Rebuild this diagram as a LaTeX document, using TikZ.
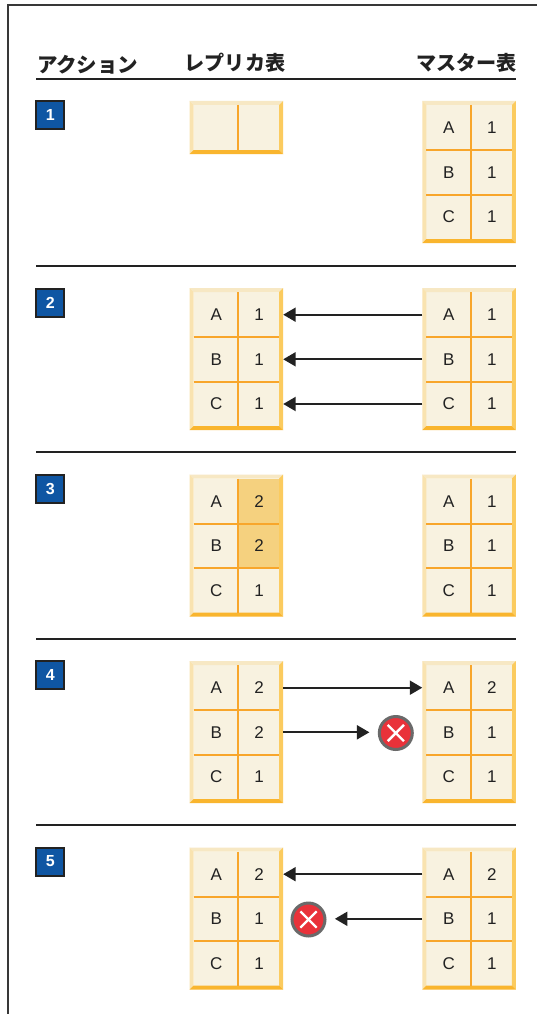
\documentclass[tikz,border=0pt]{standalone}
\usepackage{fontspec}
\setmainfont{Liberation Sans}
\newfontfamily\jpfont{Noto Sans CJK JP}
\usetikzlibrary{arrows.meta}
\definecolor{cellbg}{HTML}{F8F2E0}
\definecolor{cellhi}{HTML}{F5D17F}
\definecolor{divline}{HTML}{F8A62B}
\definecolor{bevtop}{HTML}{F7E8C4}
\definecolor{bevleft}{HTML}{F9E3B0}
\definecolor{bevright}{HTML}{FBCB5F}
\definecolor{bevbot}{HTML}{F9B52E}
\definecolor{inkc}{HTML}{222222}
\definecolor{stepblue}{HTML}{0F56A3}
\definecolor{errred}{HTML}{E9323A}
\definecolor{errring}{HTML}{6A6A6A}
\tikzset{
  cellnode/.style={inner sep=0pt,outer sep=0pt,text=inkc,font=\fontsize{17}{17}\selectfont,anchor=center},
  rownode/.style={inner sep=0pt,outer sep=0pt,minimum width=93.5pt,minimum height=44.5pt,anchor=center},
  divider/.style={draw=divline,line width=2pt},
  rule/.style={draw=inkc,line width=2pt},
  frameline/.style={draw=black!78,line width=2pt},
  headtext/.style={inner sep=0pt,outer sep=0pt,text=inkc,font=\jpfont\bfseries\fontsize{20.1}{20.1}\selectfont},
  stepbox/.style={draw=inkc,fill=stepblue,line width=2pt,minimum size=28pt,inner sep=0pt,text=white,font=\bfseries\fontsize{16}{16}\selectfont},
  flow/.style={draw=inkc,line width=2pt,-{Triangle[length=12.5pt,width=14pt]}},
  errmark/.style={circle,fill=errred,draw=errring,line width=3pt,minimum size=33pt,inner sep=0pt},
  errcross/.style={draw=white,line width=2.4pt,shorten >=6.5pt,shorten <=6.5pt},
}
% frame and bevel of a table: #1 x, #2 y, #3 height
\newcommand\bevelbox[3]{%
  \fill[cellbg] (#1+4,#2+4) rectangle (#1+89.5,#2+#3-4);
  \fill[bevtop] (#1,#2) -- (#1+93.5,#2) -- (#1+89.5,#2+4) -- (#1+4,#2+4) -- cycle;
  \fill[bevleft] (#1,#2) -- (#1+4,#2+4) -- (#1+4,#2+#3-4) -- (#1,#2+#3) -- cycle;
  \fill[bevright] (#1+93.5,#2) -- (#1+89.5,#2+4) -- (#1+89.5,#2+#3-4) -- (#1+93.5,#2+#3) -- cycle;
  \fill[bevbot] (#1,#2+#3) -- (#1+4,#2+#3-4) -- (#1+89.5,#2+#3-4) -- (#1+93.5,#2+#3) -- cycle;
}
% #1 name, #2 x, #3 y, #4 #5 #6 right values, #7 #8 fills of upper right cells
\newcommand\fulltable[8]{%
  \bevelbox{#2}{#3}{142}
  \pgfmathsetmacro\rowone{round(#3+49)}
  \pgfmathsetmacro\rowtwo{round(#3+93.7)}
  \fill[#7] (#2+48.5,#3+4) rectangle (#2+89.5,\rowone);
  \fill[#8] (#2+48.5,\rowone) rectangle (#2+89.5,\rowtwo);
  \draw[divider] (#2+48.5,#3+4) -- (#2+48.5,#3+138);
  \draw[divider] (#2+4,\rowone) -- (#2+89.5,\rowone);
  \draw[divider] (#2+4,\rowtwo) -- (#2+89.5,\rowtwo);
  \node[rownode] (#1a) at (#2+46.75,#3+26.7) {};
  \node[rownode] (#1b) at (#2+46.75,#3+71.3) {};
  \node[rownode] (#1c) at (#2+46.75,#3+116) {};
  \node[cellnode] (#1aL) at (#2+26.5,#3+26.7) {A};
  \node[cellnode] (#1bL) at (#2+26.5,#3+71.3) {B};
  \node[cellnode] (#1cL) at (#2+26.5,#3+116) {C};
  \node[cellnode] (#1aR) at (#2+69.5,#3+26.7) {#4};
  \node[cellnode] (#1bR) at (#2+69.5,#3+71.3) {#5};
  \node[cellnode] (#1cR) at (#2+69.5,#3+116) {#6};
}
\begin{document}
\begin{tikzpicture}[x=1pt,y=-1pt]
\useasboundingbox (0,0) rectangle (537,1014);
\fill[white] (0,0) rectangle (537,1014);
% page frame
\coordinate (fb) at (8.4,1014);
\coordinate (fc) at (8.4,5.4);
\coordinate (fr) at (537,5.4);
\draw[frameline] (fb) -- (fc) -- (fr);
% headers
\node[headtext,anchor=west,font=\jpfont\bfseries\fontsize{20.5}{20.5}\selectfont] (h1) at (37,64.5) {アクション};
\node[headtext,anchor=center] (h2) at (235,63) {レプリカ表};
\node[headtext,anchor=east] (h3) at (516.5,63) {マスター表};
% rules
\coordinate (r0a) at (36,79); \coordinate (r0b) at (516,79);
\coordinate (r1a) at (36,265.5); \coordinate (r1b) at (516,265.5);
\coordinate (r2a) at (36,452); \coordinate (r2b) at (516,452);
\coordinate (r3a) at (36,638.5); \coordinate (r3b) at (516,638.5);
\coordinate (r4a) at (36,825); \coordinate (r4b) at (516,825);
\draw[rule] (r0a) -- (r0b);
\draw[rule] (r1a) -- (r1b);
\draw[rule] (r2a) -- (r2b);
\draw[rule] (r3a) -- (r3b);
\draw[rule] (r4a) -- (r4b);
% step boxes
\node[stepbox] (s1) at (50.2,115) {1};
\node[stepbox] (s2) at (50.2,302.5) {2};
\node[stepbox] (s3) at (50.2,488.5) {3};
\node[stepbox] (s4) at (50.2,675) {4};
\node[stepbox] (s5) at (50.2,861.5) {5};
% step 1
\bevelbox{189.7}{101}{53}
\draw[divider] (238.2,105) -- (238.2,150);
\fulltable{m1}{422.3}{101}{1}{1}{1}{cellbg}{cellbg}
% step 2
\fulltable{r2}{189.7}{288}{1}{1}{1}{cellbg}{cellbg}
\fulltable{m2}{422.3}{288}{1}{1}{1}{cellbg}{cellbg}
\draw[flow] (m2a.west) -- (r2a.east);
\draw[flow] (m2b.west) -- (r2b.east);
\draw[flow] (m2c.west) -- (r2c.east);
% step 3
\fulltable{r3}{189.7}{474.5}{2}{2}{1}{cellhi}{cellhi}
\fulltable{m3}{422.3}{474.5}{1}{1}{1}{cellbg}{cellbg}
% step 4
\fulltable{r4}{189.7}{661}{2}{2}{1}{cellbg}{cellbg}
\fulltable{m4}{422.3}{661}{2}{1}{1}{cellbg}{cellbg}
\node[errmark] (e4) at (395.8,733) {};
\draw[errcross] (e4.45) -- (e4.225);
\draw[errcross] (e4.135) -- (e4.315);
\draw[flow] (r4a.east) -- (m4a.west);
\draw[flow,shorten >=8.4pt] (r4b.east) -- (e4.west |- r4b.east);
% step 5
\fulltable{r5}{189.7}{847.5}{2}{1}{1}{cellbg}{cellbg}
\fulltable{m5}{422.3}{847.5}{2}{1}{1}{cellbg}{cellbg}
\node[errmark] (e5) at (308.5,919.5) {};
\draw[errcross] (e5.45) -- (e5.225);
\draw[errcross] (e5.135) -- (e5.315);
\draw[flow] (m5a.west) -- (r5a.east);
\draw[flow,shorten >=8.4pt] (m5b.west) -- (e5.east |- m5b.west);
\end{tikzpicture}
\end{document}
